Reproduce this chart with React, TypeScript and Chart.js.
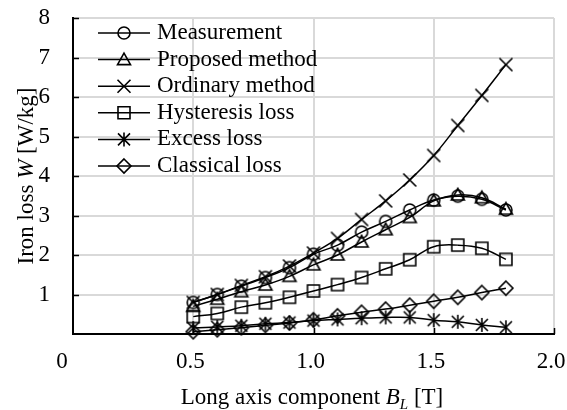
import React, { useEffect, useRef } from "react";
import { Chart, registerables } from "chart.js";

Chart.register(...registerables);

const FONT = '"Liberation Serif", "Times New Roman", serif';
const FONT_SIZE = 23;

// Data
const fluxDensity = [0.5, 0.6, 0.7, 0.8, 0.9, 1.0, 1.1, 1.2, 1.3, 1.4, 1.5, 1.6, 1.7, 1.8];
const measurementLoss = [0.8, 1.0, 1.21, 1.43, 1.68, 2.02, 2.25, 2.58, 2.85, 3.14, 3.39, 3.49, 3.41, 3.14];
const proposedLoss = [0.7, 0.88, 1.07, 1.24, 1.46, 1.75, 2.0, 2.33, 2.64, 2.95, 3.37, 3.52, 3.45, 3.16];
const ordinaryLoss = [0.8, 1.0, 1.23, 1.45, 1.72, 2.05, 2.42, 2.9, 3.37, 3.9, 4.52, 5.28, 6.04, 6.82];
const hysteresisLoss = [0.44, 0.52, 0.68, 0.79, 0.93, 1.09, 1.25, 1.43, 1.65, 1.88, 2.21, 2.25, 2.17, 1.89];
const excessLoss = [0.15, 0.18, 0.21, 0.26, 0.29, 0.34, 0.37, 0.4, 0.42, 0.42, 0.35, 0.31, 0.23, 0.17];
const classicalLoss = [0.06, 0.11, 0.16, 0.22, 0.28, 0.36, 0.46, 0.55, 0.63, 0.73, 0.83, 0.93, 1.05, 1.16];

const seriesNames = [
  "Measurement",
  "Proposed method",
  "Ordinary method",
  "Hysteresis loss",
  "Excess loss",
  "Classical loss",
];
const seriesMarkers = ["circle", "triangle", "x", "square", "asterisk", "diamond"];
const seriesValues = [measurementLoss, proposedLoss, ordinaryLoss, hysteresisLoss, excessLoss, classicalLoss];

const xTickValues = [0, 0.5, 1.0, 1.5, 2.0];
const xTickLabels = ["0", "0.5", "1.0", "1.5", "2.0"];
const yTickValues = [0, 1, 2, 3, 4, 5, 6, 7, 8];
const yTickLabels = ["", "1", "2", "3", "4", "5", "6", "7", "8"];

const xTitleParts = [
  { text: "Long axis component " },
  { text: "B", italic: true },
  { text: "L", italic: true, sub: true },
  { text: " [T]" },
];
const yTitleParts = [
  { text: "Iron loss " },
  { text: "W", italic: true },
  { text: " [W/kg]" },
];

// Plot frame (canvas px)
const FRAME = { left: 73, right: 554, top: 18, bottom: 334, width: 567, height: 410 };

function drawMarker(ctx: CanvasRenderingContext2D, kind: string, cx: number, cy: number) {
  ctx.save();
  ctx.strokeStyle = "#000";
  ctx.lineWidth = 1.6;
  ctx.beginPath();
  if (kind === "circle") {
    ctx.arc(cx, cy, 6, 0, Math.PI * 2);
  } else if (kind === "triangle") {
    ctx.moveTo(cx, cy - 6.5);
    ctx.lineTo(cx + 6.5, cy + 5);
    ctx.lineTo(cx - 6.5, cy + 5);
    ctx.closePath();
  } else if (kind === "x") {
    const s = 6.5;
    ctx.moveTo(cx - s, cy - s);
    ctx.lineTo(cx + s, cy + s);
    ctx.moveTo(cx + s, cy - s);
    ctx.lineTo(cx - s, cy + s);
  } else if (kind === "square") {
    ctx.rect(cx - 6, cy - 6, 12, 12);
  } else if (kind === "asterisk") {
    const s = 6;
    ctx.moveTo(cx - s, cy - s);
    ctx.lineTo(cx + s, cy + s);
    ctx.moveTo(cx + s, cy - s);
    ctx.lineTo(cx - s, cy + s);
    ctx.moveTo(cx, cy - 7);
    ctx.lineTo(cx, cy + 7);
  } else if (kind === "diamond") {
    const s = 7;
    ctx.moveTo(cx, cy - s);
    ctx.lineTo(cx + s, cy);
    ctx.lineTo(cx, cy + s);
    ctx.lineTo(cx - s, cy);
    ctx.closePath();
  }
  ctx.stroke();
  ctx.restore();
}

function makeMarkerCanvas(kind: string): HTMLCanvasElement {
  const c = document.createElement("canvas");
  c.width = 20;
  c.height = 20;
  const cctx = c.getContext("2d")!;
  drawMarker(cctx, kind, 10, 10);
  return c;
}

type Part = { text: string; italic?: boolean; sub?: boolean };

function partFont(p: Part) {
  const size = p.sub ? 15 : FONT_SIZE;
  return `${p.italic ? "italic " : ""}${size}px ${FONT}`;
}

function drawRich(ctx: CanvasRenderingContext2D, parts: Part[], cx: number, cy: number) {
  ctx.textBaseline = "middle";
  ctx.textAlign = "left";
  ctx.fillStyle = "#000";
  let total = 0;
  const widths = parts.map((p) => {
    ctx.font = partFont(p);
    const w = ctx.measureText(p.text).width;
    total += w;
    return w;
  });
  let x = cx - total / 2;
  parts.forEach((p, i) => {
    ctx.font = partFont(p);
    ctx.fillText(p.text, x, cy + (p.sub ? 7 : 0));
    x += widths[i];
  });
}

const framePlugin = {
  id: "frame",
  afterLayout(chart: any) {
    const ca = chart.chartArea;
    ca.left = FRAME.left;
    ca.right = FRAME.right;
    ca.top = FRAME.top;
    ca.bottom = FRAME.bottom;
    ca.width = FRAME.right - FRAME.left;
    ca.height = FRAME.bottom - FRAME.top;
    const xs = chart.scales.x;
    xs.left = FRAME.left;
    xs.right = FRAME.right;
    xs.width = FRAME.right - FRAME.left;
    xs.top = FRAME.bottom;
    xs.bottom = FRAME.height;
    xs.height = FRAME.height - FRAME.bottom;
    xs.configure();
    const ys = chart.scales.y;
    ys.left = 0;
    ys.right = FRAME.left;
    ys.width = FRAME.left;
    ys.top = FRAME.top;
    ys.bottom = FRAME.bottom;
    ys.height = FRAME.bottom - FRAME.top;
    ys.configure();
  },
};

const overlayPlugin = {
  id: "overlay",
  afterDraw(chart: any) {
    const ctx: CanvasRenderingContext2D = chart.ctx;
    const area = chart.chartArea;
    const xs = chart.scales.x;
    const ys = chart.scales.y;
    ctx.save();

    // inner tick marks
    ctx.strokeStyle = "#000";
    ctx.lineWidth = 1.5;
    ctx.beginPath();
    yTickValues.forEach((v) => {
      if (v === 0) return;
      const y = Math.round(ys.getPixelForValue(v)) + 0.5;
      ctx.moveTo(area.left, y);
      ctx.lineTo(area.left + 6, y);
    });
    xTickValues.forEach((v) => {
      if (v === 0) return;
      const x = Math.round(xs.getPixelForValue(v)) + 0.5;
      ctx.moveTo(x, area.bottom);
      ctx.lineTo(x, area.bottom - 6);
    });
    ctx.stroke();

    // "0" label of the x axis (offset to the left as in the reference)
    ctx.font = `${FONT_SIZE}px ${FONT}`;
    ctx.fillStyle = "#000";
    ctx.textAlign = "center";
    ctx.textBaseline = "middle";
    ctx.fillText(xTickLabels[0], xs.getPixelForValue(xTickValues[0]) - 11, area.bottom + 28);

    // legend
    const legX0 = 98;
    const legX1 = 150;
    const legText = 157;
    const legTop = 33;
    const legStep = 26.6;
    seriesNames.forEach((name, i) => {
      const y = legTop + i * legStep;
      ctx.strokeStyle = "#000";
      ctx.lineWidth = 1.5;
      ctx.beginPath();
      ctx.moveTo(legX0, y);
      ctx.lineTo(legX1, y);
      ctx.stroke();
      drawMarker(ctx, seriesMarkers[i], (legX0 + legX1) / 2, y);
      ctx.font = `${FONT_SIZE}px ${FONT}`;
      ctx.fillStyle = "#000";
      ctx.textAlign = "left";
      ctx.textBaseline = "middle";
      ctx.fillText(name, legText, y);
    });

    // axis titles
    drawRich(ctx, xTitleParts, 312, 398);
    ctx.save();
    ctx.translate(27, 176);
    ctx.rotate(-Math.PI / 2);
    drawRich(ctx, yTitleParts, 0, 0);
    ctx.restore();

    ctx.restore();
  },
};

export default function App() {
  const canvasRef = useRef<HTMLCanvasElement | null>(null);

  useEffect(() => {
    const canvas = canvasRef.current;
    if (!canvas) return;
    const markerImages = seriesMarkers.map((m) => makeMarkerCanvas(m));

    const datasets = seriesNames.map((name, i) => ({
      label: name,
      data: fluxDensity.map((x, j) => ({ x, y: seriesValues[i][j] })),
      borderColor: "#000",
      backgroundColor: "#000",
      borderWidth: 1.5,
      tension: 0.4,
      pointStyle: markerImages[i] as any,
      pointRadius: 5,
      pointHoverRadius: 5,
      fill: false,
      clip: false as any,
    }));

    const chart = new Chart(canvas, {
      type: "line",
      data: { datasets },
      plugins: [framePlugin, overlayPlugin],
      options: {
        animation: false,
        responsive: false,
        devicePixelRatio: 1,
        layout: { padding: 0 },
        plugins: {
          legend: { display: false },
          tooltip: { enabled: false },
          title: { display: false },
        },
        scales: {
          x: {
            type: "linear",
            min: 0,
            max: 2,
            afterBuildTicks: (s: any) => {
              s.ticks = xTickValues.map((v) => ({ value: v }));
            },
            ticks: {
              color: "#000",
              font: { family: FONT, size: FONT_SIZE },
              padding: 14,
              labelOffset: -3,
              maxRotation: 0,
              autoSkip: false,
              callback: (v: any) => {
                const idx = xTickValues.indexOf(Number(v));
                if (idx <= 0) return "";
                return xTickLabels[idx];
              },
            },
            grid: { color: "#d9d9d9", lineWidth: 2, drawTicks: false },
            border: { display: true, color: "#000", width: 2 },
          },
          y: {
            type: "linear",
            min: 0,
            max: 8,
            afterBuildTicks: (s: any) => {
              s.ticks = yTickValues.map((v) => ({ value: v }));
            },
            ticks: {
              color: "#000",
              font: { family: FONT, size: FONT_SIZE },
              padding: 23,
              autoSkip: false,
              callback: (v: any) => {
                const idx = yTickValues.indexOf(Number(v));
                return idx < 0 ? "" : yTickLabels[idx];
              },
            },
            grid: { color: "#d9d9d9", lineWidth: 2, drawTicks: false },
            border: { display: true, color: "#000", width: 2 },
          },
        },
      },
    });

    return () => {
      chart.destroy();
    };
  }, []);

  return (
    <div style={{ position: "fixed", left: 0, top: 0, width: 567, height: 410, background: "#fff" }}>
      <canvas ref={canvasRef} width={567} height={410} style={{ display: "block" }} />
    </div>
  );
}
